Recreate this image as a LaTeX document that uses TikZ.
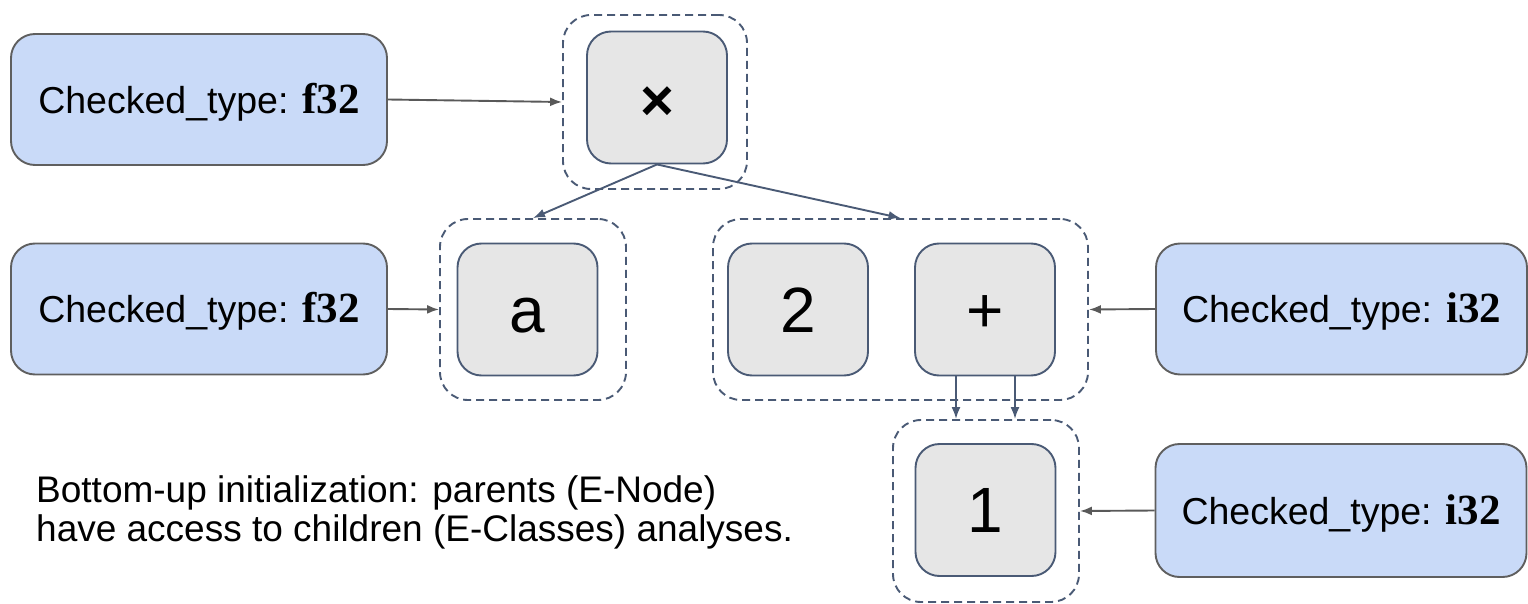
\documentclass[tikz,border=0pt]{standalone}
\usepackage{fontspec}
\setmainfont{Liberation Sans}
\newfontfamily\typefont{Liberation Serif}
\usetikzlibrary{arrows.meta,calc}

\definecolor{typefill}{HTML}{C9DAF8}
\definecolor{typeline}{HTML}{5F5F5F}
\definecolor{enodefill}{HTML}{E6E6E6}
\definecolor{slate}{HTML}{4A5A75}
\definecolor{linkgray}{HTML}{595959}

% bold serif type name
\newcommand{\tyname}[1]{{\typefont\bfseries\fontsize{43}{44}\selectfont #1}}

\tikzset{
  typebox/.style={draw=typeline, fill=typefill, line width=1.9pt, rounded corners=24pt,
    minimum width=376pt, minimum height=131pt, inner sep=0pt,
    font=\fontsize{37.5}{44}\selectfont, text height=27.2pt, text depth=0pt},
  enode/.style={draw=slate, fill=enodefill, line width=1.9pt, rounded corners=24pt,
    minimum width=140pt, minimum height=132pt, inner sep=0pt,
    font=\fontsize{64}{70}\selectfont, text height=45.8pt, text depth=0pt},
  eclass/.style={draw=slate, line width=1.9pt, dash pattern=on 8pt off 5pt,
    rounded corners=28pt, inner sep=0pt},
  typelink/.style={draw=linkgray, line width=1.9pt, -{Latex[length=12pt,width=9pt]}},
  treelink/.style={draw=slate, line width=1.9pt, -{Latex[length=12pt,width=9pt]}},
  caption/.style={font=\fontsize{37}{39}\selectfont, anchor=base west, inner sep=0pt}
}

\begin{document}
\begin{tikzpicture}[x=1pt, y=-1pt]
  \useasboundingbox (0,0) rectangle (1528,604);

  % e-classes (dashed outlines)
  \node[eclass, minimum width=184pt, minimum height=174pt] (cx) at (655,102) {};
  \node[eclass, minimum width=186pt, minimum height=181pt] (ca) at (533,309.5) {};
  \node[eclass, minimum width=375pt, minimum height=181pt] (c2p) at (900.5,309.5) {};
  \node[eclass, minimum width=186pt, minimum height=182pt] (c1) at (986,511) {};

  % e-nodes
  \node[enode] (gx) at (657,97.5) {\fontsize{58}{60}\selectfont\bfseries ×};
  \node[enode] (ga) at (527.5,309.5) {a};
  \node[enode] (g2) at (798,309.5) {2};
  \node[enode] (gp) at (985,309.5) {+};
  \node[enode] (g1) at (985.5,510) {1};

  % checked types
  \node[typebox] (t1) at (199,99.5) {Checked\_type: \tyname{f32}};
  \node[typebox] (t2) at (199,309) {Checked\_type: \tyname{f32}};
  \node[typebox, minimum width=371pt] (t3) at (1341.5,309) {Checked\_type: \tyname{i32}};
  \node[typebox, minimum width=371pt, minimum height=133pt] (t4) at (1341,510.5) {Checked\_type: \tyname{i32}};

  % type annotations attached to classes
  \draw[typelink] (t1.east) -- (cx.west);
  \draw[typelink] (t2.east) -- (ca.west);
  \draw[typelink] (t3.west) -- (c2p.east);
  \draw[typelink] (t4.west) -- (c1.east);

  % children of the e-nodes
  \draw[treelink] (gx.south) -- (ca.north);
  \draw[treelink] (gx.south) -- (c2p.north);
  \coordinate (pl) at ([xshift=-29pt]gp.south);
  \coordinate (pr) at ([xshift=30pt]gp.south);
  \draw[treelink] (pl) -- (pl |- c1.north);
  \draw[treelink] (pr) -- (pr |- c1.north);

  % caption
  \node[caption] (cap1) at (36,502) {Bottom-up initialization: parents (E-Node)};
  \node[caption] (cap2) at (36,541) {have access to children (E-Classes) analyses.};
\end{tikzpicture}
\end{document}
